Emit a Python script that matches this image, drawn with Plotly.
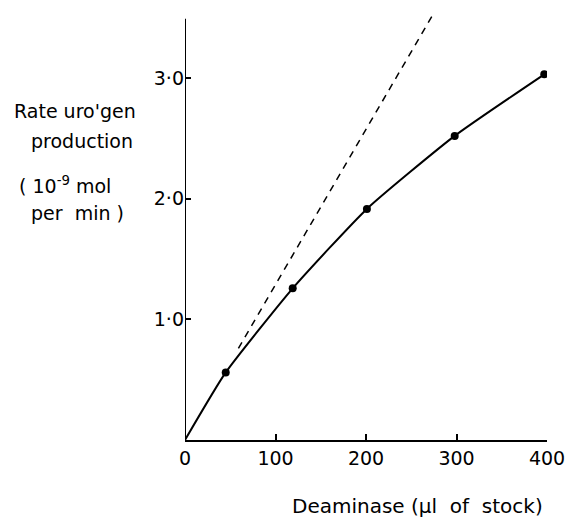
import plotly.graph_objects as go

# Data
dose = [45, 119, 201, 298, 397]            # µl of stock
rate = [0.56, 1.257, 1.915, 2.52, 3.03]    # 10^-9 mol per min
curve_x = [0] + dose
curve_y = [0] + rate
# initial-slope (dashed) line through origin
dash_x = [59, 275]
dash_slope = 0.01287
dash_y = [dash_slope * v for v in dash_x]

x_ticks = [0, 100, 200, 300, 400]
y_ticks = [1, 2, 3]
y_tick_text = ["1·0", "2·0", "3·0"]

FONT = "DejaVu Sans"
L, R, T, B = 185, 22, 14, 77
FW, FH = 569, 517
W, H = FW - L - R, FH - T - B

fig = go.Figure()
fig.add_trace(go.Scatter(x=curve_x, y=curve_y, mode="lines",
                         line=dict(color="black", width=2, shape="spline", smoothing=0.5),
                         hoverinfo="skip", showlegend=False))
fig.add_trace(go.Scatter(x=dash_x, y=dash_y, mode="lines",
                         line=dict(color="black", width=1.5, dash="7px,6px"),
                         showlegend=False))
fig.add_trace(go.Scatter(x=dose, y=rate, mode="markers",
                         marker=dict(color="black", size=8),
                         showlegend=False))

# y axis line (stops at 3.5)
fig.add_shape(type="line", xref="x", yref="y", x0=0, x1=0, y0=0, y1=3.49,
              line=dict(color="black", width=2))

fig.update_xaxes(range=[0, 400], tickvals=x_ticks, ticktext=[str(v) for v in x_ticks],
                 showline=True, linecolor="black", linewidth=2,
                 ticks="inside", ticklen=6, tickwidth=2, tickcolor="black",
                 showgrid=False, zeroline=False, automargin=False,
                 tickfont=dict(family=FONT, size=19, color="black"))
fig.update_yaxes(range=[0, 3.53], tickvals=y_ticks, ticktext=y_tick_text,
                 showline=False, ticks="inside", ticklen=6, tickwidth=2, tickcolor="black",
                 showgrid=False, zeroline=False, automargin=False,
                 tickfont=dict(family=FONT, size=19, color="black"))

ann_font = dict(family=FONT, size=19, color="black")
labels = [
    ("Rate uro'gen", 75, 111, 19),
    ("production", 82, 141, 19),
    ("( 10<sup>-9</sup> mol", 65, 185, 19),
    ("per  min )", 78, 213, 19),
    ("Deaminase (µl  of  stock)", 417, 506, 20),
]
for txt, px, py, fs in labels:
    fig.add_annotation(text=txt, x=(px - L) / W, y=(FH - B - py) / H,
                       xref="paper", yref="paper",
                       showarrow=False, font=dict(family=FONT, size=fs, color="black"),
                       xanchor="center", yanchor="middle")

fig.update_layout(
    width=FW, height=FH,
    margin=dict(l=L, r=R, t=T, b=B),
    paper_bgcolor="white", plot_bgcolor="white",
)

fig.write_html("out.html")
